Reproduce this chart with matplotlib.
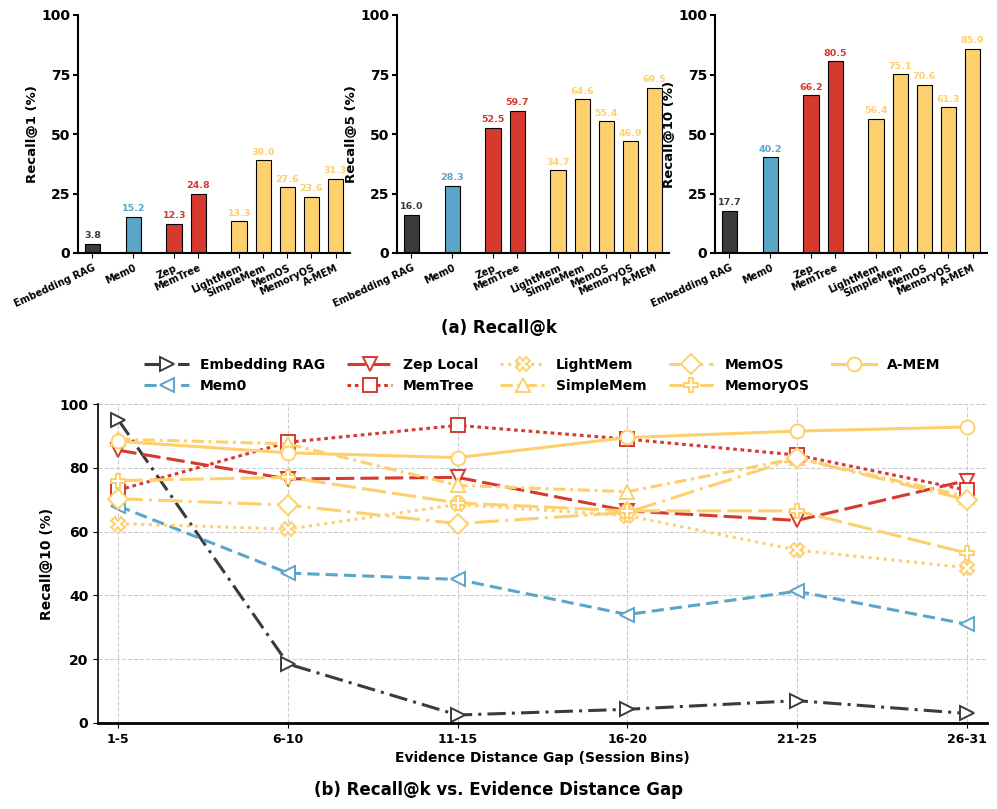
import matplotlib.pyplot as plt
import numpy as np

methods = ['Embedding RAG', 'Mem0', 'Zep', 'MemTree', 'LightMem', 'SimpleMem', 'MemOS', 'MemoryOS', 'A-MEM']
recall1 = [3.8, 15.2, 12.3, 24.8, 13.3, 39.0, 27.6, 23.6, 31.3]
recall5 = [16.0, 28.3, 52.5, 59.7, 34.7, 64.6, 55.4, 46.9, 69.5]
recall10 = [17.7, 40.2, 66.2, 80.5, 56.4, 75.1, 70.6, 61.3, 85.9]

bins = ['1-5', '6-10', '11-15', '16-20', '21-25', '26-31']
series = {
    'Embedding RAG': [95, 18.5, 2.5, 4.3, 7.0, 3.0],
    'Mem0': [68, 47, 45, 34, 41.3, 31],
    'Zep Local': [85.5, 76.5, 77, 66.5, 63.5, 76],
    'MemTree': [73, 88, 93.3, 89, 84, 73],
    'LightMem': [62.5, 60.8, 68.5, 65, 54.2, 48.7],
    'SimpleMem': [89, 87.5, 74.5, 72.5, 83, 71],
    'MemOS': [70.3, 68.3, 62.5, 66, 83, 70],
    'MemoryOS': [76, 77, 69, 66.5, 66.5, 53.3],
    'A-MEM': [88.3, 84.7, 83.2, 89.5, 91.5, 92.8],
}

DARK, BLUE, RED, YEL = '#3b3b3b', '#5aa5c8', '#d6392e', '#fdd06d'
bar_colors = [DARK, BLUE, RED, RED, YEL, YEL, YEL, YEL, YEL]
positions = [0, 1.7, 3.4, 4.4, 6.1, 7.1, 8.1, 9.1, 10.1]

styles = {
    'Embedding RAG': (DARK, (0, (6, 2, 1, 2)), '>'),
    'Mem0': (BLUE, (0, (4, 2)), '<'),
    'Zep Local': (RED, (0, (6, 2)), 'v'),
    'MemTree': (RED, (0, (1.2, 1.2)), 's'),
    'LightMem': (YEL, (0, (1, 1.5)), 'X'),
    'SimpleMem': (YEL, (0, (4, 1.5, 1, 1.5)), '^'),
    'MemOS': (YEL, (0, (8, 2, 1, 2)), 'D'),
    'MemoryOS': (YEL, (0, (8, 2)), 'P'),
    'A-MEM': (YEL, '-', 'o'),
}

plt.rcParams['font.family'] = 'DejaVu Sans'
plt.rcParams['font.weight'] = 'bold'
plt.rcParams['axes.labelweight'] = 'bold'

fig = plt.figure(figsize=(9.97, 8.09), dpi=100)
W, H = 997, 809

def ax_at(x0, y0, x1, y1):
    return fig.add_axes([x0 / W, 1 - y1 / H, (x1 - x0) / W, (y1 - y0) / H])

for left, vals, lab in [(78, recall1, 'Recall@1 (%)'), (397, recall5, 'Recall@5 (%)'), (715, recall10, 'Recall@10 (%)')]:
    ax = ax_at(left, 15, left + 272, 253)
    ax.bar(positions, vals, width=0.65, color=bar_colors, edgecolor='black', linewidth=0.8)
    for p, v, c in zip(positions, vals, bar_colors):
        ax.text(p, v + 1.5, f'{v:.1f}', ha='center', va='bottom', fontsize=6.8, color=c, fontweight='bold')
    ax.set_ylim(0, 100)
    ax.set_xlim(-0.6, 10.7)
    ax.set_yticks([0, 25, 50, 75, 100])
    ax.set_xticks(positions)
    ax.set_xticklabels(methods, rotation=25, ha='right', fontsize=7, rotation_mode='anchor')
    ax.set_ylabel(lab, fontsize=9.5, labelpad=2)
    ax.tick_params(axis='y', labelsize=10, width=1.5, pad=2)
    for s in ['top', 'right']:
        ax.spines[s].set_visible(False)
    for s in ['left', 'bottom']:
        ax.spines[s].set_linewidth(1.5)
fig.text(0.5, 1 - 328 / H, '(a) Recall@k', ha='center', va='center', fontsize=12, fontweight='bold')

ax = ax_at(98, 404, 987, 723)
x = np.arange(len(bins))
for name, vals in series.items():
    c, ls, m = styles[name]
    ax.plot(x, vals, color=c, linestyle=ls, linewidth=2.2, marker=m, markersize=10,
            markerfacecolor='white', markeredgecolor=c, markeredgewidth=1.4, label=name)
ax.set_xlim(-0.12, 5.12)
ax.set_ylim(0, 100)
ax.set_xticks(x)
ax.set_xticklabels(bins, fontsize=9)
ax.set_yticks([0, 20, 40, 60, 80, 100])
ax.tick_params(axis='y', labelsize=10)
ax.grid(True, linestyle='--', color='#cccccc', linewidth=0.8)
ax.set_ylabel('Recall@10 (%)', fontsize=10)
ax.set_xlabel('Evidence Distance Gap (Session Bins)', fontsize=10)
for s in ['top', 'right']:
    ax.spines[s].set_visible(False)
ax.spines['bottom'].set_linewidth(2)
ax.spines['left'].set_linewidth(1.2)
ax.legend(loc='lower center', bbox_to_anchor=(0.5, 1.0), ncol=5, frameon=False,
          fontsize=10, handlelength=3.2, columnspacing=1.6, borderaxespad=0.4)
fig.text(0.5, 1 - 790 / H, '(b) Recall@k vs. Evidence Distance Gap', ha='center', va='center',
         fontsize=12, fontweight='bold')

fig.savefig('out.png', dpi=100)
